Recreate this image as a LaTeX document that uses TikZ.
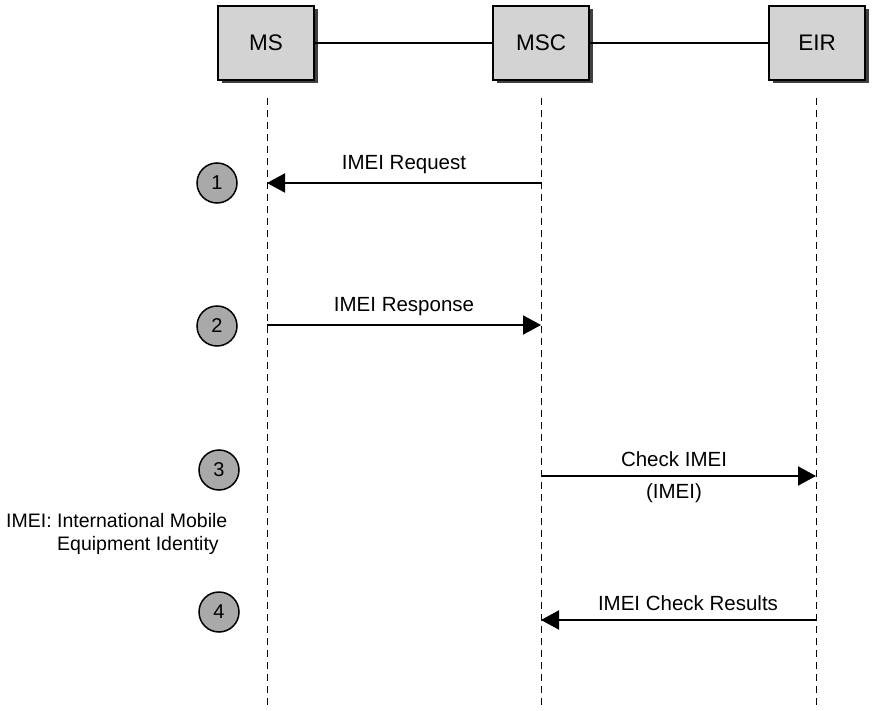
\documentclass[tikz,border=0pt]{standalone}
\usepackage{fontspec}
\setmainfont{Liberation Sans}
\usetikzlibrary{arrows.meta,shadows}
\definecolor{boxgray}{HTML}{D3D3D3}
\definecolor{circgray}{HTML}{A9A9A9}
\tikzset{
  entity/.style={draw=black, line width=2pt, fill=boxgray, minimum width=96pt, minimum height=74pt,
    inner sep=0pt, font=\fontsize{22.5}{26}\selectfont,
    drop shadow={shadow xshift=3.5pt, shadow yshift=-3.5pt, fill=black!75, opacity=1}},
  link/.style={line width=2pt},
  life/.style={line width=1pt, dash pattern=on 7pt off 5pt},
  msg/.style={line width=2pt, -{Triangle[length=18pt,width=19pt]}},
  lbl/.style={font=\fontsize{20.5}{24}\selectfont, inner sep=0pt},
  stepnum/.style={circle, draw=black, line width=1.5pt, fill=circgray, minimum size=40pt, inner sep=0pt,
    font=\fontsize{20}{24}\selectfont}
}
\begin{document}
\begin{tikzpicture}[x=1pt,y=-1pt]
\useasboundingbox (0,0) rectangle (872,711);
\node[entity] (ms) at (266,43) {MS};
\node[entity] (msc) at (541,43) {MSC};
\node[entity] (eir) at (817,43) {EIR};
\draw[link] (ms.east) -- (msc.west);
\draw[link] (msc.east) -- (eir.west);
\coordinate (mstop) at (267,98);
\coordinate (msbot) at (267,706);
\coordinate (msctop) at (541,98);
\coordinate (mscbot) at (541,706);
\coordinate (eirtop) at (816,98);
\coordinate (eirbot) at (816,706);
\draw[life] (mstop) -- (msbot);
\draw[life] (msctop) -- (mscbot);
\draw[life] (eirtop) -- (eirbot);
% messages
\coordinate (a1s) at (541,183); \coordinate (a1e) at (267,183);
\coordinate (a2s) at (267,325); \coordinate (a2e) at (541,325);
\coordinate (a3s) at (541,476); \coordinate (a3e) at (816,476);
\coordinate (a4s) at (816,620); \coordinate (a4e) at (541,620);
\draw[msg] (a1s) -- (a1e);
\draw[msg] (a2s) -- (a2e);
\draw[msg] (a3s) -- (a3e);
\draw[msg] (a4s) -- (a4e);
\node[lbl] (l1) at (404,165) {IMEI Request};
\node[lbl] (l2) at (404,307) {IMEI Response};
\node[lbl] (l3) at (674,459) {Check IMEI};
\node[lbl] (l3b) at (674,493) {(IMEI)};
\node[lbl] (l4) at (688,603) {IMEI Check Results};
\node[stepnum] (s1) at (217,183) {1};
\node[stepnum] (s2) at (217,326) {2};
\node[stepnum] (s3) at (219,470) {3};
\node[stepnum] (s4) at (219,612) {4};
\node[lbl, anchor=west, font=\fontsize{19.5}{24}\selectfont] (n1) at (6,521) {IMEI: International Mobile};
\node[lbl, anchor=west, font=\fontsize{19.5}{24}\selectfont] (n2) at (57,545) {Equipment Identity};
\end{tikzpicture}
\end{document}
